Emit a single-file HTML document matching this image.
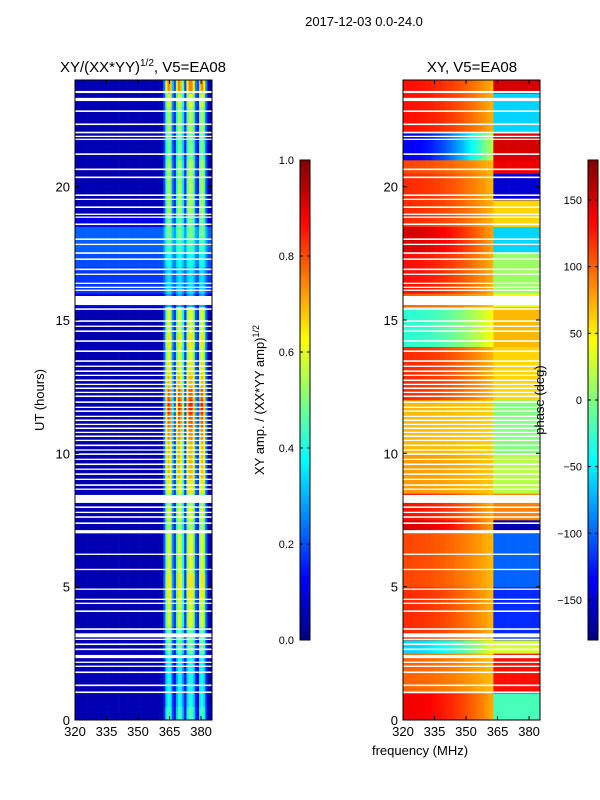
<!DOCTYPE html>
<html><head><meta charset="utf-8">
<style>
body{margin:0;background:#fff;}
svg{display:block;font-family:"Liberation Sans","DejaVu Sans",sans-serif;}
</style></head>
<body>
<svg id="fig" width="600" height="800" viewBox="0 0 600 800">
<rect width="600" height="800" fill="#fff"/>
<text x="364" y="26" font-size="13" text-anchor="middle">2017-12-03 0.0-24.0</text>
<text x="143" y="72" font-size="15" text-anchor="middle">XY/(XX*YY)<tspan font-size="10" dy="-6">1/2</tspan><tspan dy="6">, V5=EA08</tspan></text>
<text x="472" y="72" font-size="15" text-anchor="middle">XY, V5=EA08</text>
<g id="ampPanel"></g>
<g id="phasePanel"></g>
<g id="axes"></g>
<text x="420" y="755" font-size="13" text-anchor="middle">frequency (MHz)</text>
<text transform="translate(44,400) rotate(-90)" font-size="13" text-anchor="middle">UT (hours)</text>
<text transform="translate(264,400) rotate(-90)" font-size="13" text-anchor="middle">XY amp. / (XX*YY amp)<tspan font-size="9" dy="-5">1/2</tspan></text>
<text transform="translate(544,400) rotate(-90)" font-size="13" text-anchor="middle">phase (deg)</text>
</svg>
<script>
// ---- data ----
const freqMin = 320, freqMax = 385.2, tMax = 24;
const xTicks = [320, 335, 350, 365, 380];
const yTicks = [0, 5, 10, 15, 20];
const ampTicks = [0.0, 0.2, 0.4, 0.6, 0.8, 1.0];
const phaseTicks = [-150, -100, -50, 0, 50, 100, 150];
// stripe profile for 362..384 MHz (1 MHz bins)
const stripeStart = 362;
const stripeProfile = [0.3,0.8,1,0.9,0.4,0.2,0.7,1,0.9,0.6,0.2,0.8,1,1,0.8,0.3,0.2,0.9,1,0.8,0.3,0,0];
// per 0.5 h row
const ampHigh = [.45,.4,.4,.4,.4,.5,.5,.6,.6,.65,.65,.6,.6,.6,.55,.6,.55,.65,.7,.7,.7,.75,.8,.85,.8,.7,.65,.6,.65,.6,.6,.3,.35,.35,.4,.45,.5,.5,.55,.55,.55,.55,.5,.5,.55,.55,.6,.75];
const ampLow = [.05,.05,.05,.05,.05,.05,.05,.05,.05,.05,.05,.05,.05,.05,.05,.05,.05,.05,.05,.05,.05,.05,.05,.05,.05,.05,.05,.05,.05,.05,.05,.1,.18,.18,.2,.22,.22,.1,.05,.05,.05,.05,.05,.05,.05,.05,.05,.05];
const phaseLow = [140,140,100,100,100,-60,120,120,120,120,110,110,110,110,150,130,130,80,80,80,70,70,70,70,120,120,120,120,-30,-30,-30,100,130,130,130,150,150,120,120,120,120,110,-140,-140,130,130,130,130];
const phaseHigh = [-20,-20,130,130,130,30,-120,-120,-120,-120,-100,-100,-100,-100,-160,90,90,20,20,20,0,0,0,0,60,60,60,60,70,70,70,40,10,10,10,-60,-60,60,60,-150,-150,140,150,150,-60,-60,-60,150];
// flagged gaps [start hour, duration]
const gaps = [[23.51,.08],[23.21,.12],[22.8,.06],[22.31,.06],[22.0,.06],[21.86,.05],[21.75,.05],[21.19,.06],[20.62,.06],[20.32,.06],[19.65,.06],[19.5,.05],[19.2,.06],[18.94,.05],[18.83,.05],[18.56,.06],[18.0,.06],[17.81,.05],[17.48,.06],[17.25,.06],[16.87,.06],[16.69,.05],[16.35,.05],[16.2,.05],[16.09,.05],[15.56,.34],[15.38,.06],[14.93,.06],[14.74,.05],[14.55,.06],[14.18,.06],[13.8,.06],[13.43,.06],[13.24,.05],[13.05,.06],[12.9,.05],[12.71,.06],[12.56,.05],[12.41,.06],[12.26,.05],[12.11,.06],[11.89,.06],[11.7,.05],[11.55,.06],[11.36,.05],[11.21,.06],[11.06,.05],[10.91,.06],[10.76,.05],[10.61,.06],[10.46,.05],[10.27,.06],[10.1,.05],[9.94,.06],[9.75,.05],[9.56,.06],[9.38,.05],[9.19,.06],[9.0,.05],[8.78,.06],[8.63,.05],[8.14,.3],[7.95,.06],[7.76,.05],[7.58,.06],[7.35,.06],[7.0,.12],[6.19,.05],[5.62,.05],[4.88,.05],[4.5,.05],[4.35,.05],[4.05,.06],[3.38,.06],[3.1,.15],[3.0,.05],[2.81,.06],[2.62,.06],[2.32,.12],[2.14,.05],[1.99,.05],[1.76,.06],[1.27,.06],[1.01,.06]];

// ---- layout ----
const NS = "http://www.w3.org/2000/svg";
const PT = 80, PB = 720;
const panels = [{x0:75,x1:212},{x0:403,x1:540}];
function xScale(p, f){return p.x0 + (f-freqMin)/(freqMax-freqMin)*(p.x1-p.x0);}
function yScale(t){return PB - t/tMax*(PB-PT);}
function jet(v){
  v=Math.max(0,Math.min(1,v));
  const r=Math.max(0,Math.min(1,1.5-Math.abs(4*v-3)));
  const g=Math.max(0,Math.min(1,1.5-Math.abs(4*v-2)));
  const b=Math.max(0,Math.min(1,1.5-Math.abs(4*v-1)));
  return `rgb(${Math.round(r*255)},${Math.round(g*255)},${Math.round(b*255)})`;
}
function mk(tag, attrs, parent){
  const e=document.createElementNS(NS,tag);
  for(const k in attrs) e.setAttribute(k,attrs[k]);
  parent.appendChild(e); return e;
}
const ampG=document.getElementById('ampPanel');
const phG=document.getElementById('phasePanel');
const rowH = 0.5;
for(let r=0;r<ampHigh.length;r++){
  const t0=r*rowH, t1=t0+rowH;
  const y=yScale(t1), h=yScale(t0)-yScale(t1);
  for(let f=freqMin; f<freqMax; f+=1){
    const f1=Math.min(f+1,freqMax);
    const idx=f-stripeStart;
    const prof=(idx>=0&&idx<stripeProfile.length)?stripeProfile[idx]:0;
    const v=ampLow[r]+prof*(ampHigh[r]-ampLow[r]);
    const xa=xScale(panels[0],f), wa=xScale(panels[0],f1)-xa;
    const c1=mk('rect',{x:xa.toFixed(2),y:y.toFixed(2),width:(wa+0.3).toFixed(2),height:(h+0.3).toFixed(2),fill:jet(v)},ampG);
    
    
    let ph;
    if(f<363){ const fr=(f-320)/43; ph=phaseLow[r]+(60-phaseLow[r])*fr*fr*0.85; }
    else ph=phaseHigh[r];
    const xp=xScale(panels[1],f), wp=xScale(panels[1],f1)-xp;
    const c2=mk('rect',{x:xp.toFixed(2),y:y.toFixed(2),width:(wp+0.3).toFixed(2),height:(h+0.3).toFixed(2),fill:jet((ph+180)/360)},phG);
    
    
  }
}
const ax=document.getElementById('axes');
panels.forEach((p,pi)=>{
  gaps.forEach(g=>{
    const y=yScale(g[0]+g[1]), h=Math.max(1.2,yScale(g[0])-y);
    const gr=mk('rect',{x:p.x0,y:y.toFixed(2),width:p.x1-p.x0,height:h.toFixed(2),fill:'#fff'},ax);
    
    
  });
  const fr=mk('rect',{x:p.x0,y:PT,width:p.x1-p.x0,height:PB-PT,fill:'none',stroke:'#000','stroke-width':1},ax);
  
  
  xTicks.forEach(v=>{
    const x=xScale(p,v);
    mk('line',{x1:x,y1:PB,x2:x,y2:PB-4,stroke:'#000'},ax);
    mk('line',{x1:x,y1:PT,x2:x,y2:PT+4,stroke:'#000'},ax);
    const tx=mk('text',{x:x,y:PB+16,'font-size':13,'text-anchor':'middle'},ax);
    tx.textContent=v;
    
    
  });
  yTicks.forEach(v=>{
    const y=yScale(v);
    mk('line',{x1:p.x0,y1:y,x2:p.x0+4,y2:y,stroke:'#000'},ax);
    mk('line',{x1:p.x1,y1:y,x2:p.x1-4,y2:y,stroke:'#000'},ax);
    const tx=mk('text',{x:p.x0-5,y:y+5,'font-size':13,'text-anchor':'end'},ax);
    tx.textContent=v;
    
    
  });
});
// colorbars
function colorbar(x0, ticks, vmin, vmax, fmt, name){
  const y0=160,y1=640,w=10,n=120;
  for(let i=0;i<n;i++){
    const v=(i+0.5)/n;
    const r=mk('rect',{x:x0,y:(y1-(i+1)*(y1-y0)/n).toFixed(2),width:w,height:((y1-y0)/n+0.3).toFixed(2),fill:jet(v)},ax);
    
    
  }
  const fr=mk('rect',{x:x0,y:y0,width:w,height:y1-y0,fill:'none',stroke:'#000'},ax);
  
  
  ticks.forEach(v=>{
    const y=y1-(v-vmin)/(vmax-vmin)*(y1-y0);
    mk('line',{x1:x0,y1:y,x2:x0+3,y2:y,stroke:'#000'},ax);
    mk('line',{x1:x0+w,y1:y,x2:x0+w-3,y2:y,stroke:'#000'},ax);
    const tx=mk('text',{x:x0-6,y:y+4,'font-size':11,'text-anchor':'end'},ax);
    tx.textContent=fmt(v);
    
    
  });
}
colorbar(300, ampTicks, 0, 1, v=>v.toFixed(1), 'amp-colorbar');
colorbar(588, phaseTicks, -180, 180, v=>v<0?'\u2212'+(-v):String(v), 'phase-colorbar');
</script>
</body></html>
